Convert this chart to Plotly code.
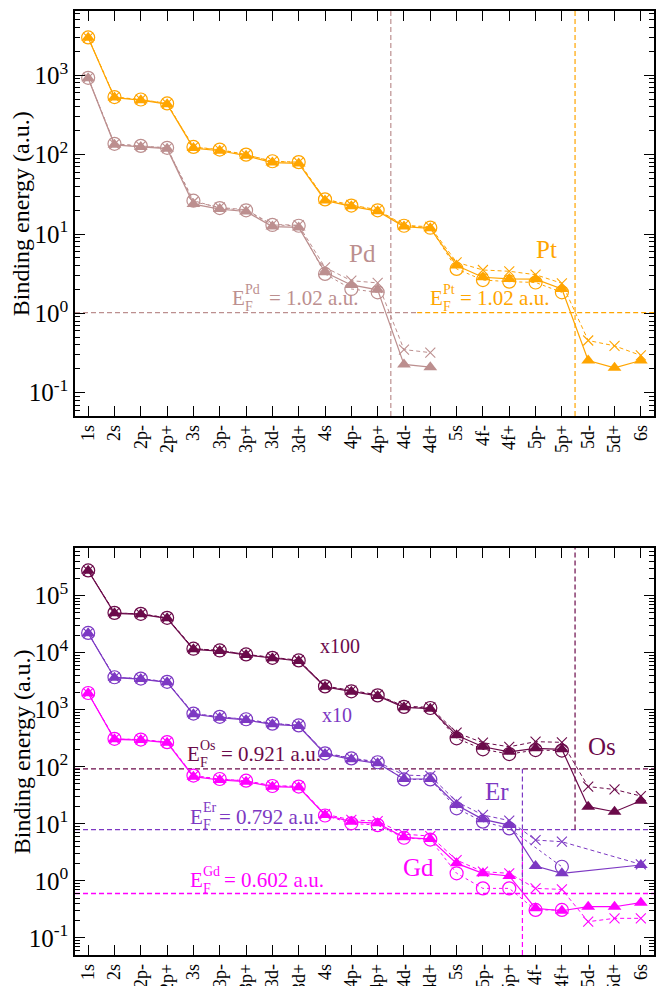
import math
import plotly.graph_objects as go

SERIF = "Liberation Serif, Times New Roman, Tinos, serif"
N = None

# ---------------- categories ----------------
top_labels = ["1s", "2s", "2p-", "2p+", "3s", "3p-", "3p+", "3d-", "3d+", "4s", "4p-", "4p+",
              "4d-", "4d+", "5s", "4f-", "4f+", "5p-", "5p+", "5d-", "5d+", "6s"]
bottom_labels = ["1s", "2s", "2p-", "2p+", "3s", "3p-", "3p+", "3d-", "3d+", "4s", "4p-", "4p+",
                 "4d-", "4d+", "5s", "5p-", "5p+", "4f-", "4f+", "5d-", "5d+", "6s"]

# ---------------- top panel: Pd and Pt (a.u.) ----------------
pd_solid = [916, 133, 125, 119, 23.8, 20.6, 19.2, 12.4, 12.1, 3.3, 2.28, 1.98, 0.227, 0.21,
            N, N, N, N, N, N, N, N]
pd_dashed = [925, 136, 128, 121, 25.5, 21.6, 20.2, 13.2, 12.9, 3.8, 2.58, 2.42, 0.35, 0.32,
             N, N, N, N, N, N, N, N]
pd_dotted = [930, 137, 129, 122, 26.3, 21.2, 19.9, 13.0, 12.7, 3.14, 2.03, 1.84,
             N, N, N, N, N, N, N, N, N, N]

pt_solid = [2970, 523, 485, 432, 121, 112, 97, 79.5, 77.5, 26.5, 22.3, 19.4, 12.4, 11.8,
            4.0, 2.85, 2.72, 2.7, 2.03, 0.255, 0.206, 0.255]
pt_dashed = [2990, 530, 492, 440, 124, 115, 100, 82, 80, 27.5, 23.2, 20.2, 12.9, 12.3,
             4.4, 3.52, 3.39, 3.07, 2.39, 0.455, 0.39, 0.295]
pt_dotted = [3000, 532, 495, 442, 125, 116, 100, 82.5, 80.5, 27.3, 22.8, 19.9, 12.7, 12.0,
             3.63, 2.63, 2.51, 2.45, 1.84, N, N, N]

# ---------------- bottom panel: Gd, Er (x10), Os (x100) (a.u.) ----------------
os_solid = [2718, 487, 468, 399, 114, 106.5, 90.8, 79.5, 71.3, 25.1, 20.6, 17.4, 10.98, 10.4,
            3.55, 2.24, 1.83, 2.10, 2.02, 0.20, 0.163, 0.254]
os_dashed = [2740, 495, 476, 405, 117, 109, 93, 81.5, 73.5, 26.0, 21.5, 18.2, 11.5, 11.0,
             3.95, 2.64, 2.24, 2.75, 2.68, 0.45, 0.40, 0.307]
os_dotted = [2750, 497, 478, 407, 117, 109, 93, 81, 73, 25.6, 21.0, 17.8, 11.2, 10.7,
             3.15, 2.02, 1.67, 1.96, 1.92, N, N, N]

er_solid = [2180, 363, 344, 301, 83, 72.5, 66, 55.5, 51.8, 16.7, 13.5, 11.5, 6.1, 6.1,
            2.14, 1.20, 0.95, 0.182, 0.136, N, N, 0.19]
er_dashed = [2200, 368, 349, 306, 85, 74.5, 67.5, 57.5, 53.5, 17.5, 14.2, 12.2, 7.16, 6.9,
             2.44, 1.43, 1.14, 0.52, 0.486, N, N, 0.195]
er_dotted = [2210, 370, 351, 308, 85.5, 75, 68, 57, 53, 17.2, 14.0, 12.0, 6.0, 6.0,
             1.87, 1.09, 0.83, N, 0.177, N, N, N]

gd_solid = [1935, 302, 294, 264, 67, 58.6, 54.7, 44.7, 43.7, 14.3, 10.9, 10.2, 5.8, 5.4,
            2.03, 1.36, 1.22, 0.331, 0.30, 0.353, 0.353, 0.415]
gd_dashed = [1950, 307, 299, 269, 69, 60.5, 56.5, 46.5, 45.5, 14.8, 11.7, 11.2, 6.6, 6.1,
             2.32, 1.45, 1.36, 0.74, 0.71, 0.193, 0.221, 0.221]
gd_dotted = [1960, 309, 300, 270, 70, 61, 57, 46, 45, 14.0, 10.2, 9.5, 5.7, 5.3,
             1.36, 0.74, 0.74, 0.31, 0.31, N, N, N]

# Fermi energies (a.u.) and display scale factors
ef_pd, ef_pt = 1.02, 1.02
ef_os, ef_er, ef_gd = 0.921, 0.792, 0.602
scale_os, scale_er, scale_gd = 100, 10, 1

# ---------------- styling ----------------
C_PD = "#BC8F8F"
C_PT = "#FFA500"
C_OS = "#6B0A4A"
C_ER = "#7D38C3"
C_GD = "#FF00FF"

TOP_RANGE = [-1.293, 3.81]
BOT_RANGE = [-1.298, 5.832]
X_RANGE = [-0.5, len(top_labels) - 0.5]

fig = go.Figure()


def sc(vals, s):
    return [None if v is None else v * s for v in vals]


def add_element(xa, ya, solid, dashed, dotted, color, s=1):
    xs = list(range(len(solid)))
    fig.add_trace(go.Scatter(
        x=xs, y=sc(dotted, s), xaxis=xa, yaxis=ya, mode="lines+markers", connectgaps=True,
        line=dict(color=color, width=1, dash="dot"),
        marker=dict(symbol="circle-open", size=13, color=color, line=dict(width=1.2, color=color)),
        showlegend=False, hoverinfo="skip"))
    fig.add_trace(go.Scatter(
        x=xs, y=sc(dashed, s), xaxis=xa, yaxis=ya, mode="lines+markers", connectgaps=True,
        line=dict(color=color, width=1, dash="4px,3px"),
        marker=dict(symbol="x-thin", size=10, color=color, line=dict(width=1.1, color=color)),
        showlegend=False, hoverinfo="skip"))
    fig.add_trace(go.Scatter(
        x=xs, y=sc(solid, s), xaxis=xa, yaxis=ya, mode="lines+markers", connectgaps=True,
        line=dict(color=color, width=1.2),
        marker=dict(symbol="triangle-up", size=12, color=color, line=dict(width=0)),
        showlegend=False, hoverinfo="skip"))


def hline(xa, ya, x0, x1, yv, color):
    fig.add_trace(go.Scatter(x=[x0, x1], y=[yv, yv], xaxis=xa, yaxis=ya, mode="lines",
                             line=dict(color=color, width=1.3, dash="5px,3px"),
                             showlegend=False, hoverinfo="skip"))


def vline(xa, ya, xv, y0, y1, color):
    fig.add_trace(go.Scatter(x=[xv, xv], y=[y0, y1], xaxis=xa, yaxis=ya, mode="lines",
                             line=dict(color=color, width=1.2, dash="5px,3px"),
                             showlegend=False, hoverinfo="skip"))


# ---------- top panel ----------
pd_cut = top_labels.index("4p+") + 0.5
pt_cut = top_labels.index("5p+") + 0.5
split = top_labels.index("4d-") + 0.5
hline("x", "y", X_RANGE[0], split, ef_pd, C_PD)
hline("x", "y", split, X_RANGE[1], ef_pt, C_PT)
vline("x", "y", pd_cut, 10 ** TOP_RANGE[0], 10 ** TOP_RANGE[1], C_PD)
vline("x", "y", pt_cut, 10 ** TOP_RANGE[0], 10 ** TOP_RANGE[1], C_PT)
add_element("x", "y", pd_solid, pd_dashed, pd_dotted, C_PD)
add_element("x", "y", pt_solid, pt_dashed, pt_dotted, C_PT)

# ---------- bottom panel ----------
os_cut = bottom_labels.index("4f+") + 0.5
er_cut = bottom_labels.index("5p+") + 0.5
hline("x2", "y2", X_RANGE[0], X_RANGE[1], ef_os * scale_os, C_OS)
hline("x2", "y2", X_RANGE[0], X_RANGE[1], ef_er * scale_er, C_ER)
hline("x2", "y2", X_RANGE[0], X_RANGE[1], ef_gd * scale_gd, C_GD)
vline("x2", "y2", os_cut, ef_er * scale_er, 10 ** BOT_RANGE[1], C_OS)
vline("x2", "y2", er_cut, 10 ** BOT_RANGE[0], ef_er * scale_er, C_GD)
vline("x2", "y2", er_cut, ef_gd * scale_gd, ef_os * scale_os, C_ER)
add_element("x2", "y2", os_solid, os_dashed, os_dotted, C_OS, scale_os)
add_element("x2", "y2", er_solid, er_dashed, er_dotted, C_ER, scale_er)
add_element("x2", "y2", gd_solid, gd_dashed, gd_dotted, C_GD, scale_gd)

# ---------------- annotations ----------------
annotations = []


def txt(xa, ya, x, ylog, text, color, size, xanchor="center", xshift=0, yshift=0):
    annotations.append(dict(xref=xa, yref=ya, x=x, y=ylog, text=text, showarrow=False,
                            xanchor=xanchor, yanchor="middle", xshift=xshift, yshift=yshift,
                            font=dict(family=SERIF, size=size, color=color)))


def ef_label(xa, ya, x, ylog, sym, value, color, rest_shift):
    txt(xa, ya, x, ylog, "E", color, 21, "left")
    txt(xa, ya, x, ylog, sym, color, 14, "left", xshift=13, yshift=9)
    txt(xa, ya, x, ylog, "F", color, 14, "left", xshift=13, yshift=-8)
    txt(xa, ya, x, ylog, "= %s a.u." % value, color, 21, "left", xshift=rest_shift)


ef_label("x", "y", 5.40, 0.19, "Pd", "1.02", C_PD, 37)
ef_label("x", "y", 12.93, 0.19, "Pt", "1.02", C_PT, 30)
txt("x", "y", 10.42, 0.752, "Pd", C_PD, 25)
txt("x", "y", 17.41, 0.811, "Pt", C_PT, 25)

ef_label("x2", "y2", 3.69, 2.223, "Os", "0.921", C_OS, 34)
ef_label("x2", "y2", 3.80, 1.128, "Er", "0.792", C_ER, 29)
ef_label("x2", "y2", 3.80, 0.016, "Gd", "0.602", C_GD, 34)
txt("x2", "y2", 19.53, 2.351, "Os", C_OS, 25)
txt("x2", "y2", 15.54, 1.563, "Er", C_ER, 25)
txt("x2", "y2", 12.56, 0.238, "Gd", C_GD, 25)
txt("x2", "y2", 9.58, 4.115, "x100", C_OS, 20)
txt("x2", "y2", 9.45, 2.906, "x10", C_ER, 20)

# y axis titles
TOP_DOM = [0.571, 1.0]
BOT_DOM = [0.0, 0.4311]
for dom in (TOP_DOM, BOT_DOM):
    annotations.append(dict(xref="paper", yref="paper", x=-0.092, y=(dom[0] + dom[1]) / 2,
                            text="Binding energy (a.u.)", textangle=-90, showarrow=False,
                            xanchor="center", yanchor="middle",
                            font=dict(family=SERIF, size=24, color="black")))


# ---------------- axes ----------------
def y_ticks(rng):
    lo, hi = math.floor(rng[0]), math.ceil(rng[1])
    vals, text, minor = [], [], []
    for p in range(lo, hi + 1):
        if rng[0] <= p <= rng[1]:
            vals.append(10 ** p)
            text.append("10<sup>%d</sup>" % p)
        for m in range(2, 10):
            v = m * 10 ** p
            if rng[0] <= math.log10(v) <= rng[1]:
                minor.append(v)
    return vals, text, minor


def yaxis(rng, dom, anchor):
    vals, text, minor = y_ticks(rng)
    return dict(type="log", range=rng, domain=dom, anchor=anchor,
                tickmode="array", tickvals=vals, ticktext=text,
                ticks="inside", ticklen=10, tickwidth=1, tickcolor="black",
                minor=dict(tickmode="array", tickvals=minor, ticks="inside", ticklen=5,
                           tickwidth=1, tickcolor="black", showgrid=False),
                showline=True, linecolor="black", linewidth=1.5, mirror="allticks",
                showgrid=False, zeroline=False, automargin=False,
                tickfont=dict(family=SERIF, size=25, color="black"))


def xaxis(labels, anchor):
    return dict(range=X_RANGE, domain=[0, 1], anchor=anchor,
                tickmode="array", tickvals=list(range(len(labels))), ticktext=labels,
                tickangle=-90, ticks="inside", ticklen=10, tickwidth=1, tickcolor="black",
                showline=True, linecolor="black", linewidth=1.5, mirror="allticks",
                showgrid=False, zeroline=False, automargin=False,
                tickfont=dict(family=SERIF, size=18, color="black"))


fig.update_layout(
    width=656, height=986,
    margin=dict(l=75, r=2, t=11, b=31),
    paper_bgcolor="white", plot_bgcolor="white",
    xaxis=xaxis(top_labels, "y"),
    yaxis=yaxis(TOP_RANGE, TOP_DOM, "x"),
    xaxis2=xaxis(bottom_labels, "y2"),
    yaxis2=yaxis(BOT_RANGE, BOT_DOM, "x2"),
    annotations=annotations,
    showlegend=False,
    font=dict(family=SERIF),
)

fig.write_html("out.html", config={"displayModeBar": False},
               post_script="document.body.style.margin='0';document.body.style.padding='0';")
